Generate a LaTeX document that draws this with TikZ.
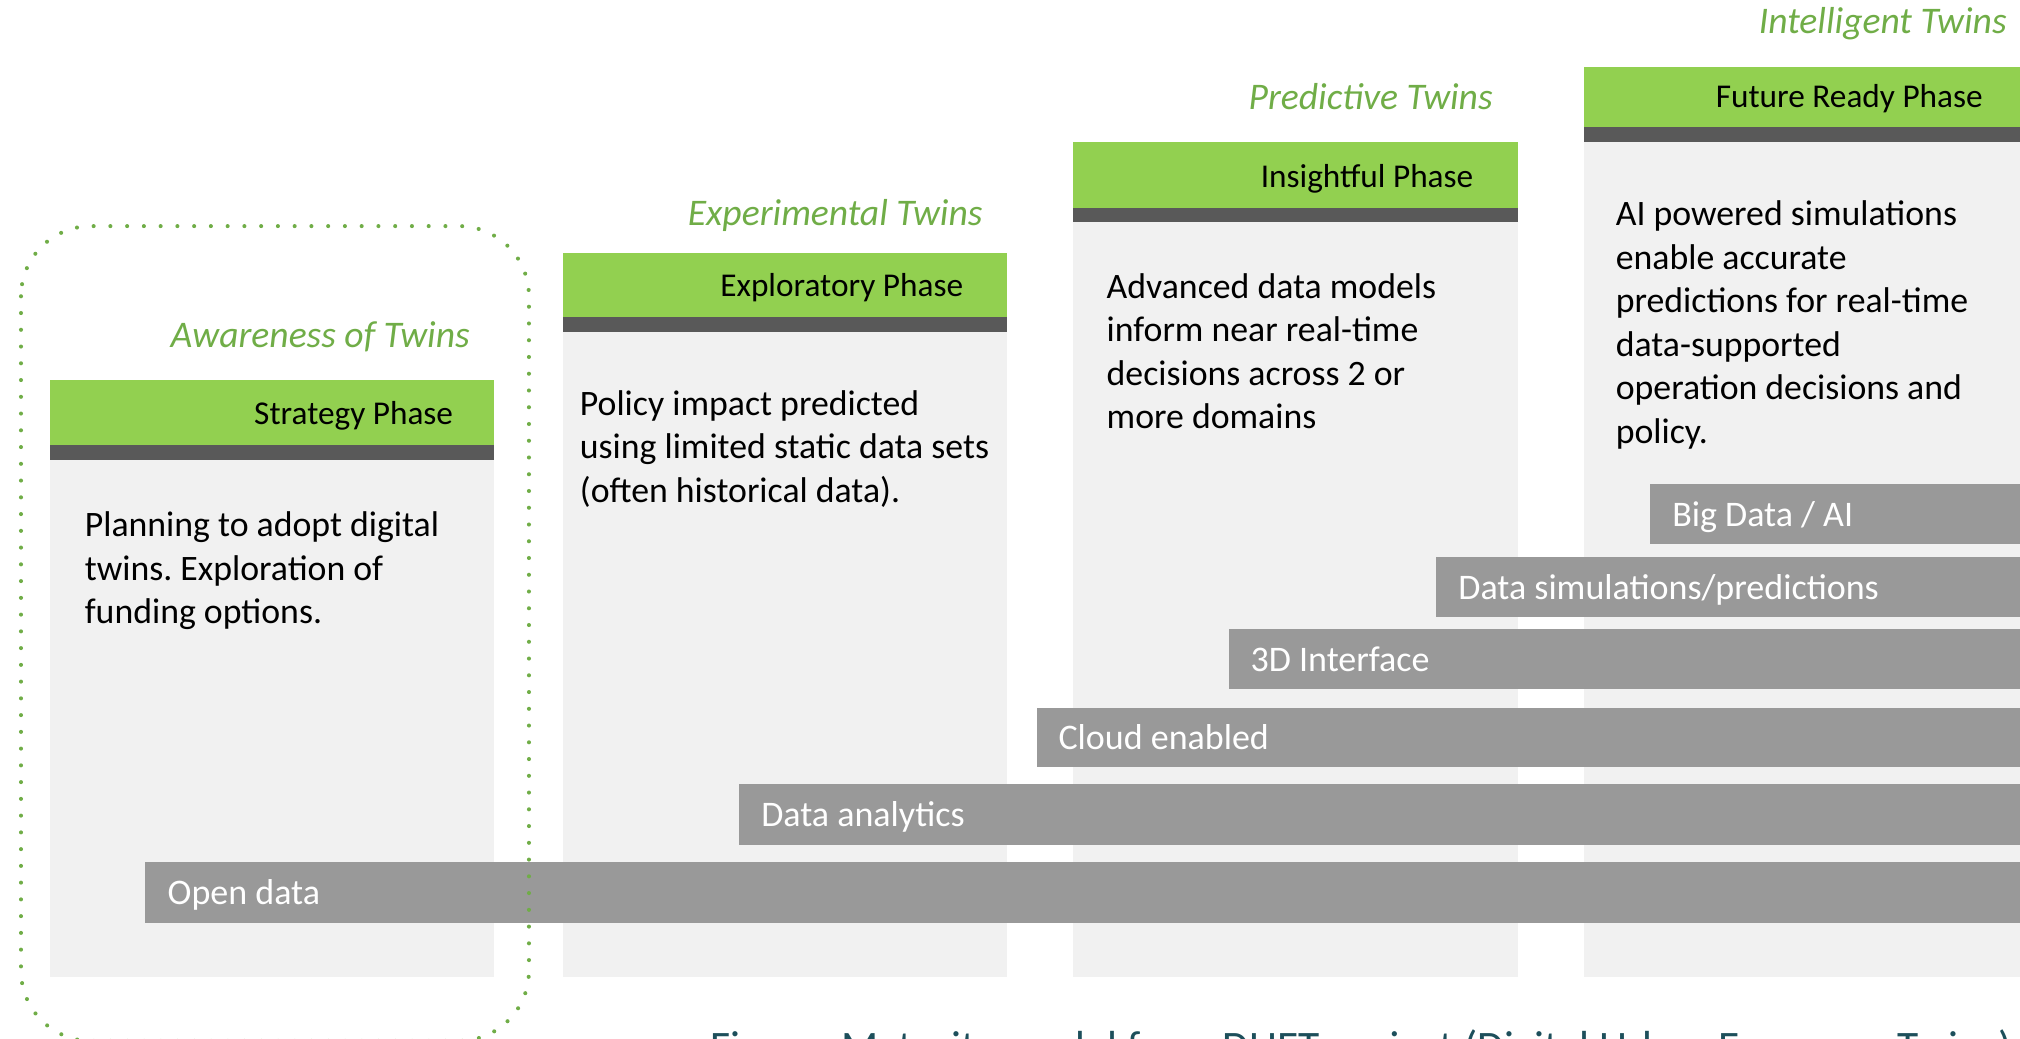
\documentclass[tikz,border=0pt]{standalone}
\usepackage{fontspec}
\setmainfont{Carlito}
\usepackage{xcolor}
\usepackage{tikz}
\frenchspacing

\definecolor{phasegreen}{HTML}{92D050}
\definecolor{twingreen}{HTML}{70AD47}
\definecolor{bardark}{HTML}{595959}
\definecolor{panelgray}{HTML}{F1F1F1}
\definecolor{techgray}{HTML}{999999}
\definecolor{captionteal}{HTML}{1D4F5B}

\begin{document}
\begin{tikzpicture}[x=0.2mm,y=-0.2mm,
    twin/.style={anchor=base east,inner sep=0pt,text=twingreen,font=\fontsize{16.6}{20}\selectfont\itshape},
    phase/.style={anchor=base east,inner sep=0pt,font=\fontsize{14.7}{17}\selectfont},
    body/.style={anchor=base west,inner sep=0pt,align=left,font=\fontsize{15.8}{19.2}\selectfont},
    tech/.style={anchor=base west,inner sep=0pt,text=white,font=\fontsize{15.9}{19}\selectfont}]
\useasboundingbox (0,0) rectangle (1568,806);

    \foreach \l/\t/\g in {38.6/295/345.5, 437/196.2/246.4, 833/110/161.2, 1229.5/51.8/98.8}{
        \fill[panelgray] (\l,\g) rectangle (\l+345,758.3);
        \fill[phasegreen] (\l,\t) rectangle (\l+345,\g);
        \fill[bardark] (\l,\g) rectangle (\l+345,\g+11.5);
    }

    \node[twin] (aware) at (365,270) {Awareness of Twins};
    \node[phase] (strategy) at (352,329.5) {Strategy Phase};
    \node[body] (strategytext) at (65.5,484.1) {Planning to adopt digital\\twins. Exploration of\\funding options.};

    \node[twin] (experimental) at (763,174.7) {Experimental Twins};
    \node[phase] (exploratory) at (748,230.5) {Exploratory Phase};
    \node[body] (exploratorytext) at (449.8,390) {Policy impact predicted\\using limited static data sets\\(often historical data).};

    \node[twin] (predictive) at (1159,84.9) {Predictive Twins};
    \node[phase] (insightful) at (1144,145.2) {Insightful Phase};
    \node[body] (insightfultext) at (858.7,332.7) {Advanced data models\\inform near real-time\\decisions across 2 or\\more domains};

    \node[twin] (intelligent) at (1558,25.9) {Intelligent Twins};
    \node[phase] (futureready) at (1539.4,83.5) {Future Ready Phase};
    \node[body] (futurereadytext) at (1253.9,344) {AI powered simulations\\enable accurate\\predictions for real-time\\data-supported\\operation decisions and\\policy.};

    \fill[techgray] (1281,375.8) rectangle (1600,422.4);
    \node[tech] (bigdata) at (1297.7,408.6) {Big Data / AI};
    \fill[techgray] (1115,432.2) rectangle (1600,478.8);
    \node[tech] (datasim) at (1131.7,465) {Data simulations/predictions};
    \fill[techgray] (953.7,488.6) rectangle (1600,535.2);
    \node[tech] (interface) at (970.4,521.4) {3D Interface};
    \fill[techgray] (804.6,549.2) rectangle (1600,595.2);
    \node[tech] (cloud) at (821.3,581.7) {Cloud enabled};
    \fill[techgray] (573.4,608.7) rectangle (1600,656);
    \node[tech] (analytics) at (590.6,641.8) {Data analytics};
    \fill[techgray] (112.9,669) rectangle (1600,716.4);
    \node[tech] (opendata) at (129.8,702.2) {Open data};

    \draw[twingreen,line width=1.8pt,line cap=round,dash pattern=on 0pt off 7.4pt,rounded corners=31pt] (16.3,175.5) rectangle (410.6,808);

    \node[anchor=base west,inner sep=0pt,text=captionteal,font=\fontsize{19.2}{22}\selectfont] (caption) at (551,823.7) {Figure: Maturity model from DUET project (Digital Urban European Twins)};
\end{tikzpicture}
\end{document}
